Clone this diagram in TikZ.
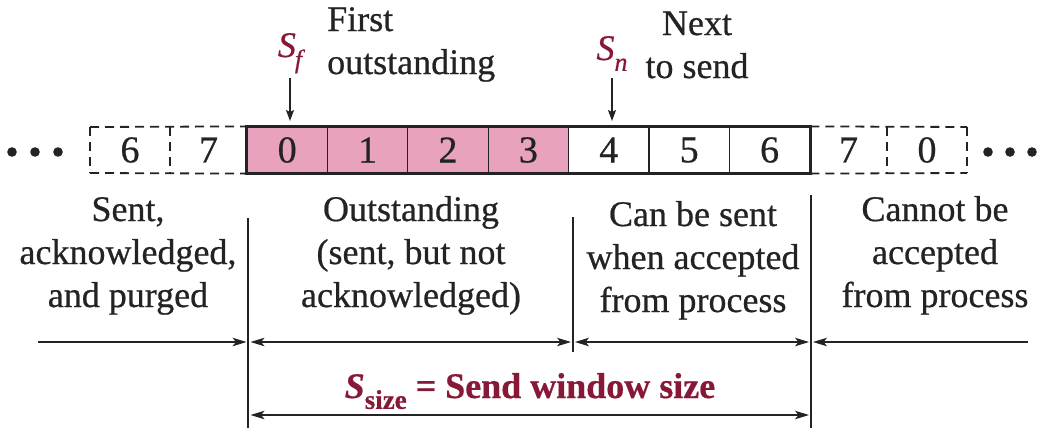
\documentclass[tikz,border=0pt]{standalone}
\usepackage{fontspec}
\setmainfont[FakeBold=0.6]{Liberation Serif}
\usetikzlibrary{arrows.meta}
\definecolor{pinkfill}{RGB}{232,162,189}
\definecolor{labred}{RGB}{135,25,55}
\definecolor{ink}{RGB}{35,35,35}
\tikzset{dimtip/.tip={Stealth[length=14pt,width=8.5pt,inset=3.5pt]}}
\begin{document}
\begin{tikzpicture}[x=1pt,y=-1pt,
  txt/.style={font=\fontsize{36}{43}\selectfont, align=center, inner sep=0pt, text=ink},
  cell/.style={minimum width=80.4pt, minimum height=46pt, inner sep=0pt, font=\fontsize{38}{40}\selectfont, text=ink},
  pcell/.style={cell, draw=ink, line width=1.2pt, fill=pinkfill},
  wcell/.style={cell, draw=ink, line width=1.2pt},
  dcell/.style={cell, minimum width=78pt},
  dashline/.style={draw=ink, line width=1.8pt, dash pattern=on 9pt off 6pt},
  sep/.style={draw=ink, line width=1.1pt},
  dim/.style={draw=ink, line width=1.4pt},
  ptr/.style={draw=ink, line width=1.4pt, -{Stealth[length=11pt,width=8pt,inset=2pt]}},
  dot/.style={fill=ink, draw=none}
]
\useasboundingbox (0,0) rectangle (1048,440);

% solid cells
\node[pcell] (c0) at (287.2,150) {0};
\node[pcell] (c1) at (367.6,150) {1};
\node[pcell] (c2) at (448.0,150) {2};
\node[pcell] (c3) at (528.4,150) {3};
\node[wcell] (c4) at (608.8,150) {4};
\node[wcell] (c5) at (689.2,150) {5};
\node[wcell] (c6) at (769.6,150) {6};
\draw[ink, line width=2.6pt] (c0.north west) rectangle (c6.south east);

% dashed cells
\node[dcell] (l6) at (130,150) {6};
\node[dcell] (l7) at (208.5,150) {7};
\node[dcell] (r7) at (848.5,150) {7};
\node[dcell] (r0) at (927,150) {0};
\draw[dashline] (90,127) -- (c0.north west);
\draw[dashline] (90,173) -- (c0.south west);
\draw[dashline] (90,127) -- (90,173);
\draw[dashline] (170,127) -- (170,173);
\draw[dashline] (c6.north east) -- (967,127);
\draw[dashline] (c6.south east) -- (967,173);
\draw[dashline] (887,127) -- (887,173);
\draw[dashline] (967,127) -- (967,173);

% dots
\foreach \x in {12,35,58,988,1010,1032} \fill[dot] (\x,152) circle (4.8pt);

% pointers
\node[inner sep=0pt, text=labred, font=\fontsize{36}{40}\selectfont, anchor=base] (sf) at (290,57) {\itshape S\kern-1pt\raisebox{-0.3em}{\fontsize{26}{26}\selectfont f}};
\node[inner sep=0pt, text=labred, font=\fontsize{36}{40}\selectfont, anchor=base] (sn) at (612,60) {\itshape S\raisebox{-0.3em}{\fontsize{26}{26}\selectfont n}};
\draw[ptr] (290,78) -- (290,121);
\draw[ptr] (612,78) -- (612,121);

\node[txt, align=left, anchor=base west] (lfirst) at (327,74) {First\\outstanding};
\node[txt, anchor=base] (lnext) at (697,78) {Next\\to send};

% separators
\coordinate (s1t) at (248,218); \coordinate (s1b) at (248,428);
\coordinate (s2t) at (573,217); \coordinate (s2b) at (573,352);
\coordinate (s3t) at (811,195); \coordinate (s3b) at (811,428);
\draw[sep] (s1t) -- (s1b);
\draw[sep] (s2t) -- (s2b);
\draw[sep] (s3t) -- (s3b);

% region labels (anchor = baseline of last line)
\node[txt, anchor=base] (lsent) at (128,307) {Sent,\\acknowledged,\\and purged};
\node[txt, anchor=base] (lout) at (411,307) {Outstanding\\(sent, but not\\acknowledged)};
\node[txt, anchor=base] (lcan) at (693,312) {Can be sent\\when accepted\\from process};
\node[txt, anchor=base] (lcannot) at (935,307) {Cannot be\\accepted\\from process};

% dimension arrows
\coordinate (a0) at (38,342);
\coordinate (a5) at (1028,342);
\draw[dim, -{dimtip}] (a0) -- ([xshift=-1.5pt]s1t |- a0);
\draw[dim, {dimtip}-{dimtip}] ([xshift=2.5pt]s1t |- a0) -- ([xshift=-2pt]s2t |- a0);
\draw[dim, {dimtip}-{dimtip}] ([xshift=2pt]s2t |- a0) -- ([xshift=-2pt]s3t |- a0);
\draw[dim, {dimtip}-] ([xshift=2pt]s3t |- a0) -- (a5);
\coordinate (b0) at (248,415);
\draw[dim, {dimtip}-{dimtip}] ([xshift=2.5pt]b0) -- ([xshift=-2pt]s3t |- b0);

\node[inner sep=0pt, text=labred, font=\fontsize{36}{40}\selectfont\bfseries, anchor=base] (lsize) at (530,398) {\textit{S}\raisebox{-0.3em}{\fontsize{27}{27}\selectfont size} = Send window size};
\end{tikzpicture}
\end{document}
